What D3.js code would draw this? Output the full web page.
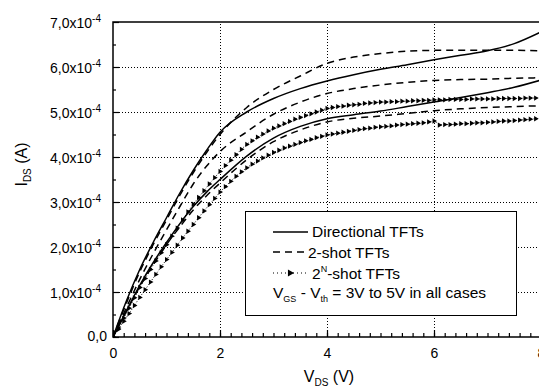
<!DOCTYPE html>
<html>
<head>
<meta charset="utf-8">
<script src="https://cdn.jsdelivr.net/npm/d3@7"></script>
<style>
  body { margin: 0; background: #fff; }
  svg { display: block; font-family: Arial, "Liberation Sans", sans-serif; }
</style>
</head>
<body>
<svg width="539" height="387"></svg>
<script>
// I_DS values are in units of 1e-4 A
const vds = [0, 0.25, 0.5, 0.75, 1, 1.25, 1.5, 1.75, 2, 2.5, 3, 3.5, 4, 4.5, 5, 5.5, 6, 6.5, 7, 7.5, 8];

// directional TFTs (solid)
const dirHigh = [0, 0.8, 1.5, 2.1, 2.65, 3.2, 3.7, 4.15, 4.55, 5.0, 5.3, 5.52, 5.69, 5.83, 5.95, 6.05, 6.16, 6.26, 6.36, 6.52, 6.78];
const dirLow = [0, 0.58, 1.15, 1.65, 2.1, 2.52, 2.9, 3.22, 3.5, 4.02, 4.42, 4.68, 4.85, 4.94, 5.02, 5.12, 5.22, 5.32, 5.43, 5.55, 5.71];

// 2-shot TFTs (dashed)
const twoShotHigh = [0, 0.75, 1.45, 2.05, 2.6, 3.15, 3.65, 4.1, 4.5, 5.1, 5.5, 5.8, 6.08, 6.22, 6.3, 6.35, 6.37, 6.37, 6.37, 6.37, 6.36];
const twoShotMid = [0, 0.65, 1.28, 1.85, 2.38, 2.9, 3.4, 3.8, 4.12, 4.56, 4.95, 5.22, 5.41, 5.52, 5.6, 5.66, 5.7, 5.72, 5.73, 5.75, 5.76];
const twoShotLow = [0, 0.57, 1.12, 1.6, 2.05, 2.45, 2.82, 3.14, 3.42, 3.94, 4.34, 4.6, 4.78, 4.86, 4.91, 4.97, 5.03, 5.07, 5.1, 5.12, 5.14];

// 2^N-shot TFTs (dotted with triangles), every 0.1 V
const vdsFine = d3.range(81).map(i => i / 10);
const nShotHigh = [
  0, 0.2, 0.42, 0.64, 0.87, 1.1, 1.3, 1.5, 1.69, 1.87,
  2.05, 2.24, 2.42, 2.6, 2.78, 2.95, 3.1, 3.25, 3.4, 3.54,
  3.68, 3.81, 3.93, 4.05, 4.17, 4.28, 4.36, 4.44, 4.51, 4.58,
  4.64, 4.69, 4.74, 4.79, 4.84, 4.88, 4.92, 4.96, 5.0, 5.04,
  5.08, 5.1, 5.12, 5.13, 5.15, 5.16, 5.17, 5.19, 5.2, 5.21,
  5.22, 5.22, 5.23, 5.23, 5.24, 5.24, 5.25, 5.25, 5.26, 5.26,
  5.27, 5.27, 5.27, 5.28, 5.28, 5.28, 5.28, 5.29, 5.29, 5.29,
  5.29, 5.29, 5.3, 5.3, 5.3, 5.3, 5.3, 5.31, 5.31, 5.31,
  5.32
];
const nShotLow = [
  0, 0.17, 0.35, 0.52, 0.7, 0.88, 1.05, 1.22, 1.39, 1.56,
  1.72, 1.88, 2.04, 2.2, 2.35, 2.5, 2.65, 2.8, 2.94, 3.08,
  3.22, 3.34, 3.46, 3.57, 3.67, 3.76, 3.84, 3.91, 3.98, 4.04,
  4.1, 4.15, 4.2, 4.24, 4.28, 4.32, 4.36, 4.39, 4.43, 4.46,
  4.49, 4.51, 4.53, 4.55, 4.57, 4.59, 4.61, 4.63, 4.64, 4.66,
  4.67, 4.68, 4.69, 4.71, 4.72, 4.73, 4.74, 4.75, 4.76, 4.78,
  4.8, 4.71, 4.72, 4.72, 4.73, 4.74, 4.74, 4.75, 4.76, 4.76,
  4.77, 4.78, 4.79, 4.8, 4.8, 4.81, 4.82, 4.83, 4.84, 4.85,
  4.86
];

const yMajor = [0, 1, 2, 3, 4, 5, 6, 7];
const yMinor = [0.5, 1.5, 2.5, 3.5, 4.5, 5.5, 6.5];
const xMajor = [0, 2, 4, 6, 8];
const xMinor = d3.range(41).map(i => i / 5);
const yLabels = ['0,0', '1,0x10', '2,0x10', '3,0x10', '4,0x10', '5,0x10', '6,0x10', '7,0x10'];

const svg = d3.select('svg');

const x = d3.scaleLinear().domain([0, 8]).range([113, 541]);
const y = d3.scaleLinear().domain([0, 7]).range([337, 22]);

// grid
const grid = svg.append('g')
  .attr('stroke', '#000')
  .attr('stroke-width', 1)
  .attr('stroke-dasharray', '1,2')
  .attr('shape-rendering', 'crispEdges');
grid.selectAll('.gx')
  .data([2, 4, 6])
  .join('line')
    .attr('x1', d => x(d) + 0.5)
    .attr('x2', d => x(d) + 0.5)
    .attr('y1', y(0))
    .attr('y2', y(7));
grid.selectAll('.gy')
  .data([1, 2, 3, 4, 5, 6])
  .join('line')
    .attr('x1', x(0))
    .attr('x2', x(8))
    .attr('y1', d => y(d) + 0.5)
    .attr('y2', d => y(d) + 0.5);

// curves
svg.append('clipPath').attr('id', 'plot')
  .append('rect')
    .attr('x', x(0)).attr('y', y(7))
    .attr('width', x(8) - x(0)).attr('height', y(0) - y(7));

const plot = svg.append('g').attr('clip-path', 'url(#plot)');

const line = d3.line()
  .x(d => x(d[0]))
  .y(d => y(d[1]))
  .curve(d3.curveMonotoneX);

const solid = [dirHigh, dirLow];
const dashed = [twoShotHigh, twoShotMid, twoShotLow];
const dotted = [nShotHigh, nShotLow];

plot.selectAll('.solid')
  .data(solid)
  .join('path')
    .attr('fill', 'none')
    .attr('stroke', '#000')
    .attr('stroke-width', 1.5)
    .attr('d', s => line(vds.map((v, i) => [v, s[i]])));

plot.selectAll('.dashed')
  .data(dashed)
  .join('path')
    .attr('fill', 'none')
    .attr('stroke', '#000')
    .attr('stroke-width', 1.5)
    .attr('stroke-dasharray', '7,5')
    .attr('d', s => line(vds.map((v, i) => [v, s[i]])));

const tri = d3.symbol(d3.symbolTriangle, 12);

dotted.forEach(s => {
  const pts = vdsFine.map((v, i) => [v, s[i]]);
  plot.append('path')
    .attr('fill', 'none')
    .attr('stroke', '#000')
    .attr('stroke-width', 1)
    .attr('stroke-dasharray', '1,2')
    .attr('d', line(pts));
  plot.append('g')
    .selectAll('path')
    .data(pts)
    .join('path')
      .attr('d', tri)
      .attr('fill', '#000')
      .attr('transform', d => `translate(${x(d[0])},${y(d[1])}) rotate(90)`);
});

// axes
svg.append('g')
  .attr('transform', `translate(${x(0)},0)`)
  .call(d3.axisLeft(y).tickValues(yMinor).tickSize(-3).tickFormat(''))
  .call(g => g.select('.domain').remove());
svg.append('g')
  .attr('transform', `translate(${x(0)},0)`)
  .call(d3.axisLeft(y).tickValues(yMajor).tickSize(-6).tickFormat(''))
  .call(g => g.select('.domain').remove());

svg.append('g')
  .attr('transform', `translate(0,${y(0)})`)
  .call(d3.axisBottom(x).tickValues(xMinor).tickSize(-4).tickFormat(''))
  .call(g => g.select('.domain').remove());
svg.append('g')
  .attr('transform', `translate(0,${y(0)})`)
  .call(d3.axisBottom(x).tickValues(xMajor).tickSize(-7).tickPadding(11).tickFormat(d3.format('d')))
  .call(g => g.select('.domain').remove())
  .call(g => g.selectAll('text').attr('font-size', 14).attr('font-family', 'Arial, "Liberation Sans", sans-serif').attr('fill', '#000'));

svg.selectAll('.tick line').attr('stroke-width', 1.2);

// frame: left, bottom, top
svg.append('path')
  .attr('fill', 'none')
  .attr('stroke', '#000')
  .attr('stroke-width', 1.5)
  .attr('d', `M${x(8)},${y(7)}H${x(0)}V${y(0)}H${x(8)}`);

// y tick labels with exponent
const ylab = svg.append('g')
  .attr('font-size', 14)
  .attr('text-anchor', 'end')
  .selectAll('text')
  .data(yMajor)
  .join('text')
    .attr('x', d => d === 0 ? 107 : 99)
    .attr('y', d => y(d) + (d === 0 ? 4 : 6))
    .text(d => yLabels[d]);
ylab.filter(d => d > 0)
  .append('tspan')
    .attr('font-size', 10)
    .attr('dy', -6)
    .text('-4');
ylab.filter(d => d > 0)
  .attr('text-anchor', 'start')
  .attr('x', 50);

// axis titles
const yt = svg.append('text')
  .attr('transform', `translate(27,${(y(0) + y(7)) / 2 - 15}) rotate(-90)`)
  .attr('text-anchor', 'middle')
  .attr('font-size', 16);
yt.append('tspan').text('I');
yt.append('tspan').attr('font-size', 10).attr('dy', 4).text('DS');
yt.append('tspan').attr('dy', -4).text(' (A)');

const xt = svg.append('text')
  .attr('x', 329)
  .attr('y', 382)
  .attr('text-anchor', 'middle')
  .attr('font-size', 16);
xt.append('tspan').text('V');
xt.append('tspan').attr('font-size', 10).attr('dy', 4).text('DS');
xt.append('tspan').attr('dy', -4).text(' (V)');

// legend
const lg = svg.append('g');
lg.append('rect')
  .attr('x', 245.5).attr('y', 211.5)
  .attr('width', 271).attr('height', 104)
  .attr('fill', '#fff')
  .attr('stroke', '#000')
  .attr('stroke-width', 1);

lg.append('line')
  .attr('x1', 273).attr('x2', 308).attr('y1', 232).attr('y2', 232)
  .attr('stroke', '#000').attr('stroke-width', 1.5);
lg.append('line')
  .attr('x1', 273).attr('x2', 308).attr('y1', 252).attr('y2', 252)
  .attr('stroke', '#000').attr('stroke-width', 1.5).attr('stroke-dasharray', '7,5');
lg.append('line')
  .attr('x1', 273).attr('x2', 308).attr('y1', 273).attr('y2', 273)
  .attr('stroke', '#000').attr('stroke-width', 1).attr('stroke-dasharray', '1,3');
lg.append('path')
  .attr('d', d3.symbol(d3.symbolTriangle, 22)())
  .attr('transform', 'translate(290,273) rotate(90)');

const lt = lg.append('g').attr('font-size', 15.5);
lt.append('text').attr('x', 312).attr('y', 237).text('Directional TFTs');
lt.append('text').attr('x', 308).attr('y', 258).text('2-shot TFTs');
const t3 = lt.append('text').attr('x', 312).attr('y', 279);
t3.append('tspan').text('2');
t3.append('tspan').attr('font-size', 9).attr('dy', -7).text('N');
t3.append('tspan').attr('dy', 7).text('-shot TFTs');
const t4 = lt.append('text').attr('x', 273).attr('y', 298);
t4.append('tspan').text('V');
t4.append('tspan').attr('font-size', 9).attr('dy', 4).text('GS');
t4.append('tspan').attr('dy', -4).text(' - V');
t4.append('tspan').attr('font-size', 9).attr('dy', 4).text('th');
t4.append('tspan').attr('dy', -4).text(' = 3V to 5V in all cases');
</script>
</body>
</html>
